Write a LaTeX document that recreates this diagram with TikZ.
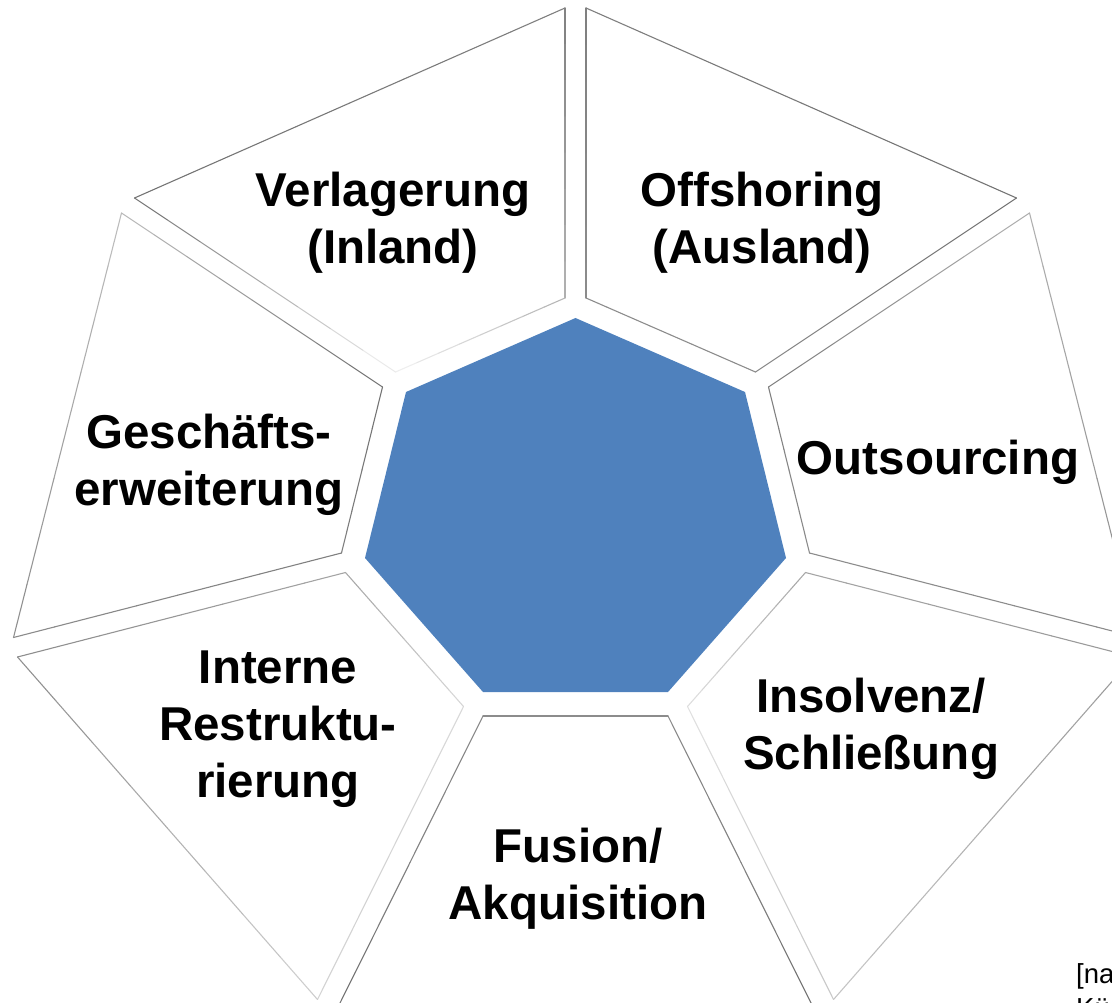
\documentclass[tikz,border=0pt]{standalone}
\usepackage{fontspec}
\setmainfont{Liberation Sans}
\usetikzlibrary{calc}
\definecolor{HeptBlue}{RGB}{79,129,189}
% one rim edge, drawn in eight pieces so its grey can run from #3 to #4 (percent black)
\newcommand{\rimline}[4]{%
  \foreach \ta [evaluate=\ta as \tb using \ta+0.125,
                evaluate=\ta as \lv using #3+(#4-#3)*(\ta+0.0625)] in {0,0.125,...,0.875}
    \draw[rim,black!\lv] ($#1!\ta!#2$) -- ($#1!\tb!#2$);}
% one rim piece: four corners, each with its grey
\newcommand{\rimpiece}[8]{%
  \rimline{#1}{#3}{#2}{#4}\rimline{#3}{#5}{#4}{#6}%
  \rimline{#5}{#7}{#6}{#8}\rimline{#7}{#1}{#8}{#2}}

\begin{document}
\begin{tikzpicture}[x=1pt,y=-1pt,
  rim/.style={line width=1.1pt,line cap=round},
  piecetext/.style={font=\fontsize{47.5}{57}\selectfont\bfseries,align=center,inner sep=0pt}]
\useasboundingbox (0,0) rectangle (1112,1003);
\clip (0,0) rectangle (1112,1003);
% centre
\fill[HeptBlue] (575.5,318) -- (745,392) -- (786,558) -- (668,692) -- (483,692) -- (365,558) -- (406,392) -- cycle;
% the seven rim pieces, each pulled a little away from the centre
\rimpiece{(395.5,372)}{5}{(134.5,198)}{55}{(565,8)}{50}{(565,298)}{30}
\rimpiece{(586,298)}{45}{(586,8)}{50}{(1016.5,198)}{55}{(755.5,372)}{45}
\rimpiece{(768.5,387)}{50}{(1029.5,213)}{30}{(1137.5,637.5)}{45}{(809.5,553)}{45}
\rimpiece{(805.5,572.5)}{35}{(1133.5,657)}{40}{(833.5,999.5)}{22}{(687.5,706.5)}{12}
\rimpiece{(668,716)}{45}{(814,1009)}{55}{(337,1009)}{55}{(483,716)}{45}
\rimpiece{(463.5,706.5)}{15}{(317.5,999.5)}{18}{(17.5,657)}{45}{(345.5,572.5)}{35}
\rimpiece{(341.5,553)}{50}{(13.5,637.5)}{45}{(121.5,213)}{25}{(382.5,387)}{55}
% labels
\node[piecetext] (inland) at (393,223) {Verlagerung\\(Inland)};
\node[piecetext] (ausland) at (762,223) {Offshoring\\(Ausland)};
\node[piecetext] (outs) at (938,462) {Outsourcing};
\node[piecetext] (erw) at (209,465) {Geschäfts-\\erweiterung};
\node[piecetext] (restr) at (278,729) {Interne\\Restruktu-\\rierung};
\node[piecetext] (insolv) at (871,729) {Insolvenz/\\Schließung};
\node[piecetext] (fusion) at (578,879) {Fusion/\\Akquisition};
\node[font=\fontsize{27.5}{34}\selectfont,anchor=base west,inner sep=0pt] (quelle) at (1076,983) {{[}na};
\node[font=\fontsize{27.5}{34}\selectfont,anchor=base west,inner sep=0pt] (quelleb) at (1076,1017) {Kü};
\end{tikzpicture}
\end{document}
